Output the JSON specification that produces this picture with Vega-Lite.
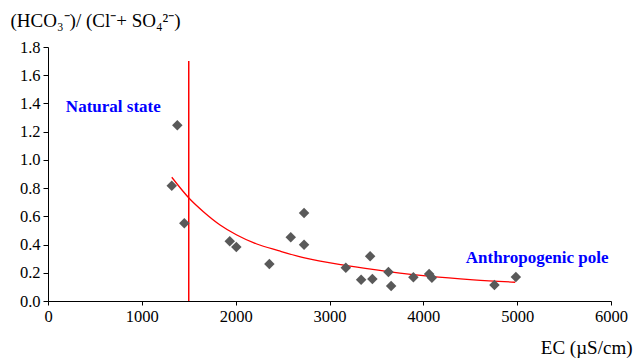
{
  "$schema": "https://vega.github.io/schema/vega-lite/v6.json",
  "autosize": {"type": "none"},
  "padding": {"left": 48, "top": 47, "right": 33, "bottom": 57},
  "width": 563,
  "height": 254,
  "background": "white",
  "config": {
    "view": {"stroke": null},
    "font": "Liberation Serif, serif",
    "axis": {
      "grid": false,
      "domainColor": "#000000",
      "domainWidth": 1,
      "tickColor": "#000000",
      "labelFont": "Liberation Serif, serif",
      "labelFontSize": 16.5,
      "labelColor": "#000000",
      "labelOverlap": false,
      "labelFlush": false,
      "titleFont": "Liberation Serif, serif",
      "titleFontSize": 19,
      "titleFontWeight": "normal",
      "titleColor": "#000000"
    }
  },
  "datasets": {
    "points": [
      {"ec": 1378, "ratio": 1.245},
      {"ec": 1319, "ratio": 0.817},
      {"ec": 1453, "ratio": 0.551},
      {"ec": 1937, "ratio": 0.423},
      {"ec": 2007, "ratio": 0.383},
      {"ec": 2359, "ratio": 0.262},
      {"ec": 2587, "ratio": 0.451},
      {"ec": 2729, "ratio": 0.624},
      {"ec": 2729, "ratio": 0.399},
      {"ec": 3174, "ratio": 0.236},
      {"ec": 3337, "ratio": 0.151},
      {"ec": 3433, "ratio": 0.317},
      {"ec": 3457, "ratio": 0.156},
      {"ec": 3628, "ratio": 0.206},
      {"ec": 3657, "ratio": 0.106},
      {"ec": 3894, "ratio": 0.168},
      {"ec": 4062, "ratio": 0.191},
      {"ec": 4091, "ratio": 0.165},
      {"ec": 4758, "ratio": 0.113},
      {"ec": 4986, "ratio": 0.170}
    ],
    "curve": [
      {"ec": 1319, "ratio": 0.877},
      {"ec": 1514, "ratio": 0.721},
      {"ec": 1656, "ratio": 0.633},
      {"ec": 1834, "ratio": 0.539},
      {"ec": 2012, "ratio": 0.468},
      {"ec": 2225, "ratio": 0.404},
      {"ec": 2455, "ratio": 0.357},
      {"ec": 2722, "ratio": 0.307},
      {"ec": 3184, "ratio": 0.250},
      {"ec": 3628, "ratio": 0.208},
      {"ec": 4073, "ratio": 0.174},
      {"ec": 4534, "ratio": 0.150},
      {"ec": 4979, "ratio": 0.133}
    ],
    "labels": [
      {"ec": 696, "ratio": 1.378, "label": "Natural state"},
      {"ec": 5213, "ratio": 0.303, "label": "Anthropogenic pole"}
    ],
    "divider": [
      {"ec": 1500, "ratio": 0, "ratioTop": 1.7}
    ]
  },
  "encoding": {
    "x": {
      "field": "ec", "type": "quantitative",
      "scale": {"domain": [0, 6000], "nice": false, "zero": false},
      "axis": {
        "values": [0, 1000, 2000, 3000, 4000, 5000, 6000],
        "format": "d",
        "tickSize": 4,
        "labelPadding": 3,
        "labelOverlap": false,
        "labelFlush": false,
        "title": "EC (µS/cm)",
        "titleAnchor": "end",
        "titleAlign": "right",
        "titleBaseline": "middle",
        "titleX": 584,
        "titleY": 46
      }
    },
    "y": {
      "field": "ratio", "type": "quantitative",
      "scale": {"domain": [0, 1.8], "nice": false, "zero": false},
      "axis": {
        "values": [0, 0.2, 0.4, 0.6, 0.8, 1.0, 1.2, 1.4, 1.6, 1.8],
        "tickCount": 10,
        "format": ".1f",
        "tickSize": 5,
        "labelPadding": 3,
        "labelOverlap": false,
        "labelFlush": false,
        "title": "(HCO₃⁻)/ (Cl⁻+ SO₄²⁻)",
        "titleAngle": 0,
        "titleAlign": "left",
        "titleBaseline": "middle",
        "titleX": -38,
        "titleY": -27
      }
    }
  },
  "layer": [
    {
      "data": {"name": "divider"},
      "mark": {"type": "rule", "color": "#ff0000", "strokeWidth": 1.5},
      "encoding": {
        "y2": {"field": "ratioTop"}
      }
    },
    {
      "data": {"name": "curve"},
      "mark": {"type": "line", "color": "#ff0000", "strokeWidth": 1.3, "interpolate": "monotone"}
    },
    {
      "data": {"name": "points"},
      "mark": {"type": "point", "shape": "diamond", "filled": true, "size": 110, "color": "#595959", "opacity": 1}
    },
    {
      "data": {"name": "labels"},
      "mark": {"type": "text", "font": "Liberation Serif, serif", "fontSize": 17, "fontWeight": "bold", "color": "#0000ff", "align": "center", "baseline": "middle"},
      "encoding": {
        "text": {"field": "label"}
      }
    }
  ]
}
